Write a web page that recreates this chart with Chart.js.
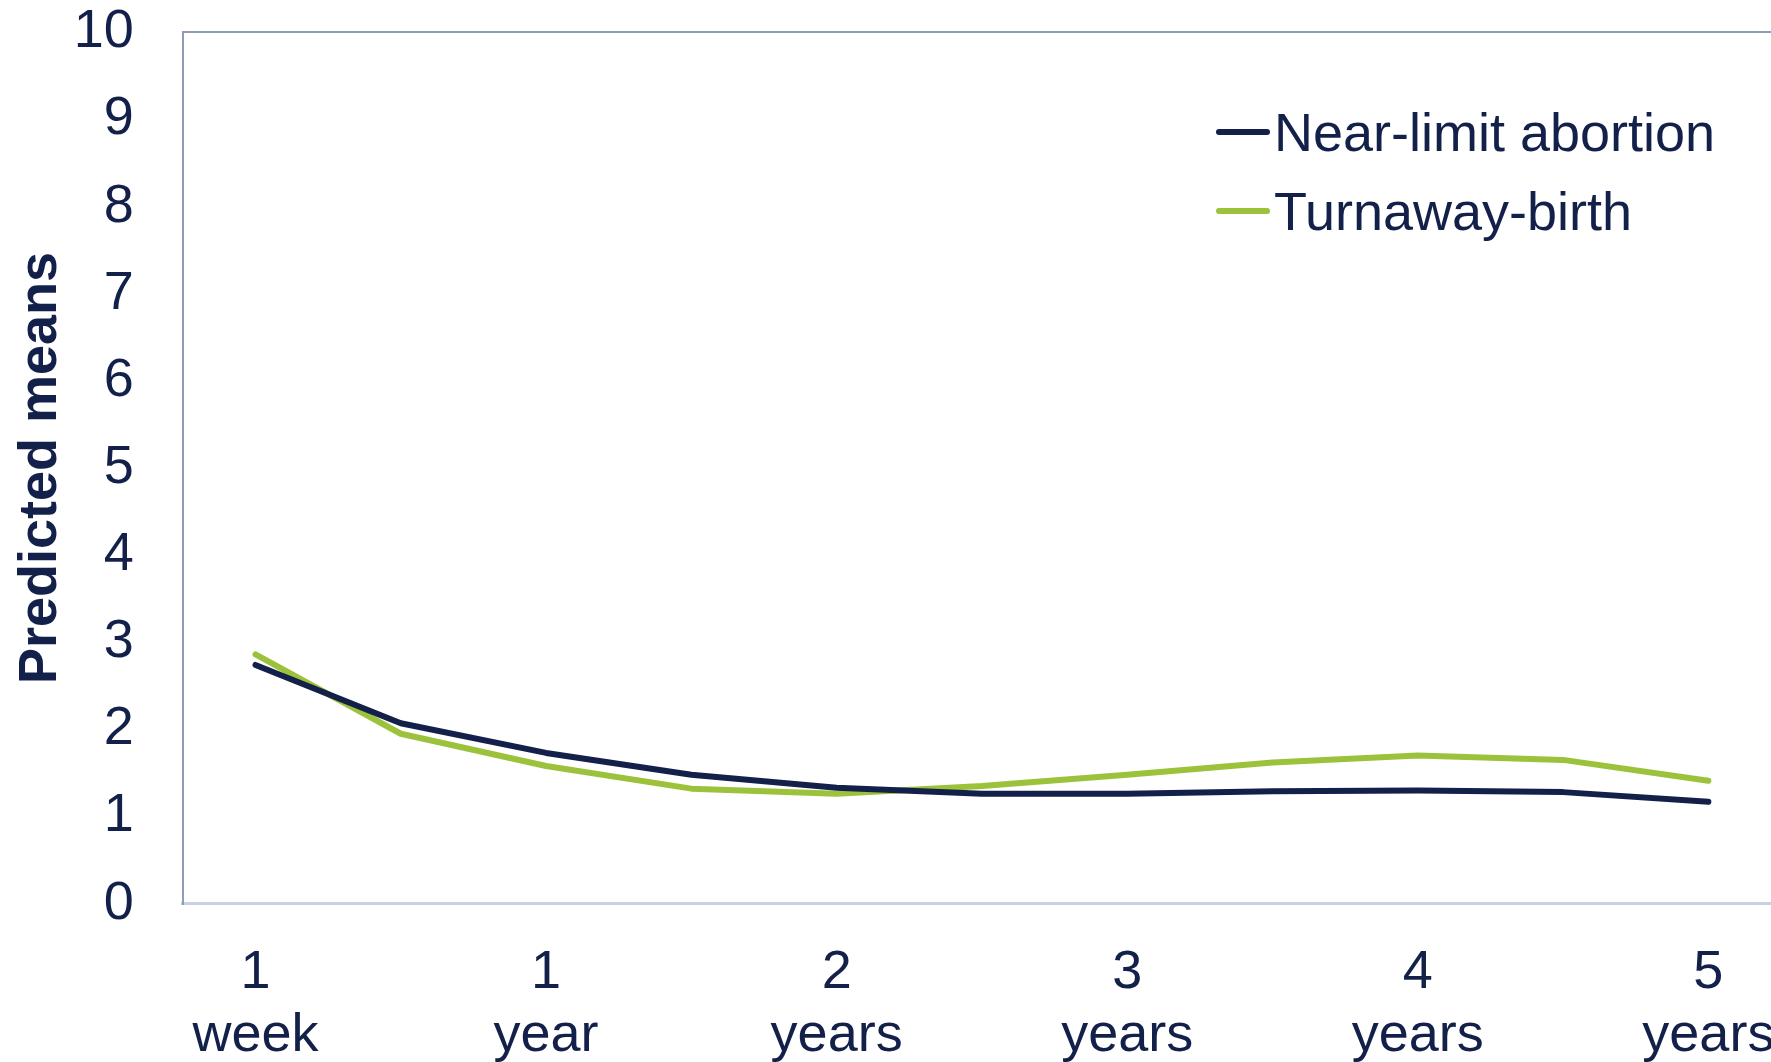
<!DOCTYPE html>
<html>
<head>
<meta charset="utf-8">
<script src="https://cdn.jsdelivr.net/npm/chart.js@4"></script>
<style>
  html, body { margin: 0; padding: 0; background: #fff; overflow: hidden; }
  #wrap { position: relative; width: 1771px; height: 1062px; overflow: hidden; }
  #legend { position: absolute; left: 1216px; top: 92px; font-family: "Liberation Sans", Arial, Helvetica, sans-serif; font-size: 54px; color: #13214a; }
  #legend .item { display: flex; align-items: center; height: 79px; }
  #legend .swatch { width: 54px; height: 6px; border-radius: 3px; margin-right: 4px; }
</style>
</head>
<body>
<div id="wrap">
  <!-- plot frame runs off the right edge, as in the original -->
  <canvas id="chart" width="1781" height="1062"></canvas>
  <div id="legend"></div>
</div>
<script>
// time points (half-year steps, labels only on whole years)
const categories = [['1', 'week'], '', ['1', 'year'], '', ['2', 'years'], '', ['3', 'years'], '', ['4', 'years'], '', ['5', 'years']];
const nearLimit = [2.74, 2.07, 1.73, 1.48, 1.33, 1.26, 1.26, 1.29, 1.30, 1.28, 1.17];
const turnaway = [2.86, 1.95, 1.58, 1.32, 1.26, 1.35, 1.48, 1.62, 1.70, 1.65, 1.41];
const seriesNames = ['Near-limit abortion', 'Turnaway-birth'];
const seriesColors = ['#13214a', '#9cc23b'];

const textColor = '#13214a';
const fontFamily = '"Liberation Sans", Arial, Helvetica, sans-serif';

const ctx = document.getElementById('chart').getContext('2d');
const chart = new Chart(ctx, {
  type: 'line',
  data: {
    labels: categories,
    datasets: [nearLimit, turnaway].map((d, i) => ({
      label: seriesNames[i],
      data: d,
      borderColor: seriesColors[i],
      backgroundColor: seriesColors[i],
      borderWidth: 6,
      borderCapStyle: 'round',
      borderJoinStyle: 'round',
      pointRadius: 0,
      tension: 0
    }))
  },
  options: {
    responsive: false,
    animation: false,
    layout: { padding: { top: 0, left: 0, right: 0, bottom: -6 } },
    plugins: {
      legend: { display: false },
      tooltip: { enabled: false }
    },
    scales: {
      x: {
        offset: true,
        // invisible tick marks give the gap under the axis
        grid: { display: true, drawOnChartArea: false, color: 'rgba(0,0,0,0)', tickColor: 'rgba(0,0,0,0)', tickLength: 38 },
        border: { display: true, color: '#c6d0e6', width: 3 },
        ticks: {
          color: textColor,
          font: { family: fontFamily, size: 54, lineHeight: 1.17 },
          padding: 0,
          maxRotation: 0,
          autoSkip: false
        }
      },
      y: {
        min: 0,
        max: 10,
        grid: {
          drawTicks: true,
          tickLength: 49,
          tickColor: 'rgba(0,0,0,0)',
          lineWidth: 2,
          color: c => c.tick.value === 10 ? '#8d9db8' : 'rgba(0,0,0,0)'
        },
        border: { display: true, color: '#8d9db8', width: 2 },
        ticks: {
          stepSize: 1,
          color: textColor,
          font: { family: fontFamily, size: 54 },
          padding: 0
        },
        title: {
          display: true,
          text: 'Predicted means',
          color: textColor,
          font: { family: fontFamily, size: 54, weight: 'bold' },
          padding: { top: 9, bottom: 0 }
        }
      }
    }
  }
});

// legend
const legendEl = document.getElementById('legend');
seriesNames.forEach((name, i) => {
  const item = document.createElement('div');
  item.className = 'item';
  item.innerHTML = `<span class="swatch" style="background:${seriesColors[i]}"></span><span>${name}</span>`;
  legendEl.appendChild(item);
});
</script>
</body>
</html>
